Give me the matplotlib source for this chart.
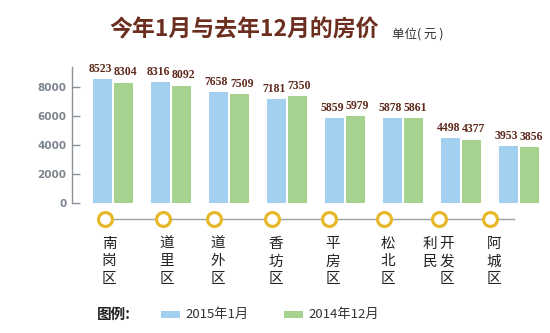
import matplotlib
matplotlib.use("Agg")
import matplotlib.pyplot as plt
from matplotlib.patches import Rectangle

plt.rcParams['font.family'] = ['Noto Sans CJK SC', 'DejaVu Sans']

districts = ["南岗区", "道里区", "道外区", "香坊区", "平房区", "松北区", "利民开发区", "阿城区"]
jan_2015 = [8523, 8316, 7658, 7181, 5859, 5878, 4498, 3953]
dec_2014 = [8304, 8092, 7509, 7350, 5979, 5861, 4377, 3856]
yticks = [0, 2000, 4000, 6000, 8000]
series_names = ["2015年1月", "2014年12月"]

BLUE = "#a3cff0"
GREEN = "#a6d290"
BROWN = "#5e2a1c"
GOLD = "#e6b82a"
GRAY = "#8a9199"

W, H = 550, 333
fig = plt.figure(figsize=(W / 100, H / 100), dpi=100)

def px_axes(x0, y0, x1, y1):
    return fig.add_axes([x0 / W, 1 - y1 / H, (x1 - x0) / W, (y1 - y0) / H])

# main bar axes
ax = px_axes(72, 67, 545, 203)
n = len(districts)
xs = list(range(n))
bw = 0.33
off = 0.18
b1 = ax.bar([x - off for x in xs], jan_2015, width=bw, color=BLUE, zorder=2)
b2 = ax.bar([x + off for x in xs], dec_2014, width=bw, color=GREEN, zorder=2)
ax.set_xlim(-0.707, 7.45)
ax.set_ylim(0, 9379)
for bars, vals, dx in ((b1, jan_2015, -1.6), (b2, dec_2014, 1.6)):
    for r, v in zip(bars, vals):
        ax.annotate(str(v), (r.get_x() + r.get_width() / 2, v), xytext=(dx, 3),
                    textcoords="offset points", ha="center", va="bottom",
                    fontsize=8.5, color=BROWN, family="Liberation Serif",
                    fontweight="bold")
for s in ("top", "right", "bottom"):
    ax.spines[s].set_visible(False)
ax.spines["left"].set_color(GRAY)
ax.spines["left"].set_linewidth(1.0)
ax.set_xticks([])
ax.set_yticks(yticks)
ax.set_yticklabels([str(t) for t in yticks], fontsize=7.5, color="#7c848d",
                   fontweight="bold", family="DejaVu Sans")
ax.tick_params(axis="y", direction="in", length=6, width=1.0, color=GRAY, pad=4)
ax.patch.set_alpha(0)

# circle row and vertical district labels
ax2 = px_axes(0, 205, W, H)
ax2.set_xlim(0, W)
ax2.set_ylim(H, 205)
ax2.axis("off")
cx = [105, 163, 214, 272, 329, 384, 439, 490]
cy = 219
ax2.plot([105, 514], [cy, cy], color="#9aa0a6", lw=1.0, zorder=1)
ax2.scatter(cx, [cy] * n, s=100, facecolor="white", edgecolor=GOLD, linewidth=2.3, zorder=3)
for x, name in zip(cx, districts):
    if len(name) == 3:
        for k, ch in enumerate(name):
            ax2.text(x + 4, 244 + 17.5 * k, ch, ha="center", va="center",
                     fontsize=10.5, color="#222222")
    else:
        left = name[:2]
        right = name[2:]
        for k, ch in enumerate(left):
            ax2.text(x - 9, 244 + 17.5 * k, ch, ha="center", va="center",
                     fontsize=10.5, color="#222222")
        for k, ch in enumerate(right):
            ax2.text(x + 8, 244 + 17.5 * k, ch, ha="center", va="center",
                     fontsize=10.5, color="#222222")

# legend
ax2.text(97, 314, "图例:", ha="left", va="center", fontsize=10.5,
         fontweight="bold", color="#222222")
ax2.add_patch(Rectangle((161, 311), 19, 6.5, facecolor=BLUE, edgecolor="none"))
ax2.text(185, 314, series_names[0], ha="left", va="center", fontsize=9.5, color="#333333")
ax2.add_patch(Rectangle((284, 311), 19, 6.5, facecolor=GREEN, edgecolor="none"))
ax2.text(308, 314, series_names[1], ha="left", va="center", fontsize=9.5, color="#333333")

# title
fig.text(244 / W, 1 - 30 / H, "今年1月与去年12月的房价", ha="center", va="center",
         fontsize=16.5, fontweight="bold", color="#6b2e1f")
fig.text(392 / W, 1 - 34 / H, "单位( 元 )", ha="left", va="center",
         fontsize=9, color="#333333")

fig.savefig("out.png", dpi=100)
